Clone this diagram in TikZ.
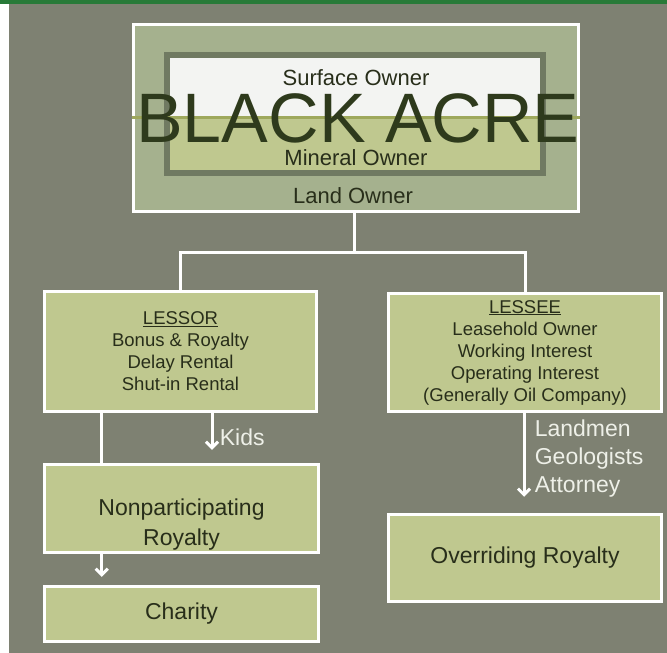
\documentclass[tikz,border=0pt]{standalone}
\usepackage{fontspec}
\setmainfont{Liberation Sans}
\usetikzlibrary{arrows.meta}

\definecolor{bgray}{RGB}{126,129,114}
\definecolor{topbar}{RGB}{40,122,56}
\definecolor{landfill}{RGB}{165,177,142}
\definecolor{framegray}{RGB}{112,122,98}
\definecolor{surfwhite}{RGB}{243,244,242}
\definecolor{boxgreen}{RGB}{191,200,143}
\definecolor{oliveline}{RGB}{158,168,92}
\definecolor{acretext}{RGB}{46,58,28}
\definecolor{boxtext}{RGB}{40,46,26}
\definecolor{labelwhite}{RGB}{238,240,232}

\begin{document}
\begin{tikzpicture}[x=1pt, y=-1pt,
        box/.style={rectangle, draw=white, line width=3.5pt, fill=boxgreen, text=boxtext, align=center},
        small/.style={font=\fontsize{18.5}{22}\selectfont},
        big/.style={font=\fontsize{23}{30}\selectfont},
        line/.style={draw=white, line width=3pt},
        arrow/.style={->, >={Straight Barb[length=6pt,width=12pt]}, white, line width=3pt},
        label/.style={text=labelwhite, align=left, font=\fontsize{23}{28}\selectfont}
    ]
    \useasboundingbox (0,0) rectangle (667,653);

    % Background
    \fill[white] (0,0) rectangle (667,653);
    \fill[bgray] (9,4) rectangle (667,653);
    \fill[topbar] (0,0) rectangle (667,4);

    % Black Acre
    \node[box, fill=landfill, minimum width=445, minimum height=187] (landowner) at (356,118) {};
    \node[rectangle, draw=framegray, line width=6pt, fill=boxgreen, minimum width=376, minimum height=118] (frame) at (355,114) {};
    \node[rectangle, fill=surfwhite, minimum width=370, minimum height=59] (surface) at (355,87.5) {};
    \draw[oliveline, line width=3pt] (landowner.west |- surface.south) -- (landowner.east |- surface.south);

    \node[anchor=base, text=boxtext, font=\fontsize{22}{22}\selectfont] (surfacetext) at (356,85) {Surface Owner};
    \node[anchor=base, text=boxtext, font=\fontsize{22}{22}\selectfont] (mineraltext) at (356,165) {Mineral Owner};
    \node[anchor=base, text=boxtext, font=\fontsize{22}{22}\selectfont] (landtext) at (353,203) {Land Owner};
    \node[anchor=base, text=acretext, font=\fontsize{70}{70}\selectfont] (acre) at (358,142) {BLACK ACRE};

    % Lessor / Lessee
    \node[box, small, minimum width=272, minimum height=120] (lessor) at (180.5,351.5)
        {\underline{LESSOR}\\Bonus \& Royalty\\Delay Rental\\Shut-in Rental};
    \node[box, small, minimum width=273, minimum height=118] (lessee) at (525,352.5)
        {\underline{LESSEE}\\Leasehold Owner\\Working Interest\\Operating Interest\\(Generally Oil Company)};

    \coordinate (split) at (354,252);
    \draw[line] (landowner.south -| split) -- (split);
    \draw[line] (split) -| (lessor.north);
    \draw[line] (split) -| (lessee.north);

    % Royalties
    \node[box, minimum width=274, minimum height=88] (npr) at (181.5,508.5) {};
    \node[big, text=boxtext, align=center, yshift=-16.5pt] (nprtext) at (npr.center) {Nonparticipating\\Royalty};
    \node[box, big, minimum width=274, minimum height=55] (charity) at (181.5,614) {Charity};
    \node[box, big, minimum width=273, minimum height=87] (overriding) at (525,558) {Overriding Royalty};

    \draw[line] ([xshift=59]lessor.south west) -- ([xshift=59]npr.north west);
    \draw[arrow, shorten >=13pt] ([xshift=31.5]lessor.south) -- ([xshift=30.5]npr.north)
        node[label, anchor=west, pos=0.48, xshift=3pt] {Kids};
    \draw[arrow, shorten >=16pt] ([xshift=-1]lessee.south) -- ([xshift=-1]overriding.north)
        node[label, anchor=west, pos=0.46, xshift=6pt] {Landmen\\Geologists\\Attorney};
    \draw[arrow, shorten >=8pt] ([xshift=59]npr.south west) -- ([xshift=59]charity.north west);

    \end{tikzpicture}
\end{document}
